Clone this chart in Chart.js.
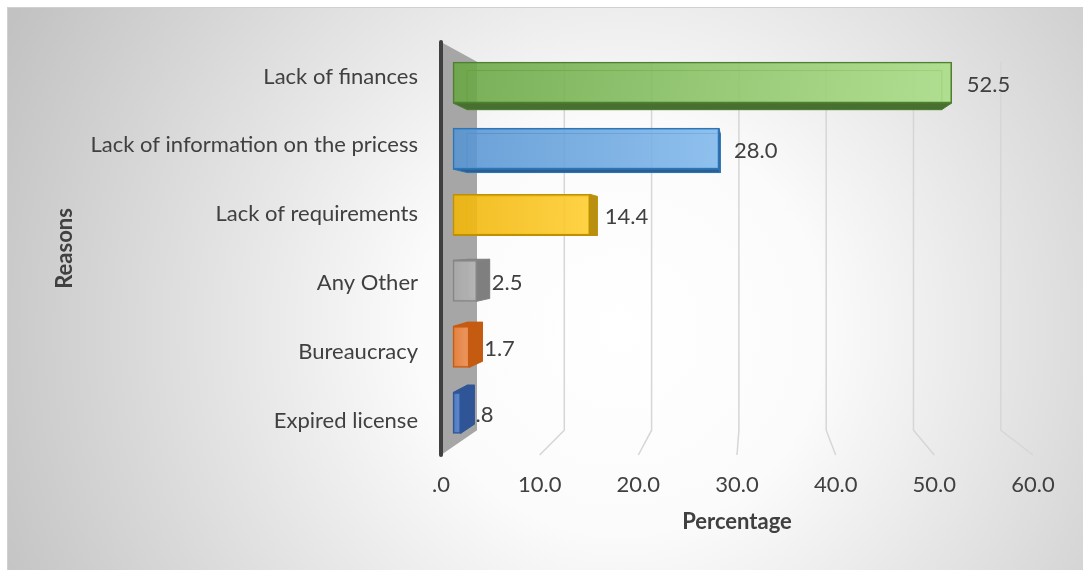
<!DOCTYPE html>
<html>
<head>
<meta charset="utf-8">
<script src="https://cdn.jsdelivr.net/npm/chart.js@4.4.0/dist/chart.umd.min.js"></script>
<style>
html,body{margin:0;padding:0;background:#fff;}
canvas{display:block;}
</style>
</head>
<body>
<canvas id="c" width="1083" height="570"></canvas>
<script>
// ---- data ----
const categories = ["Lack of finances", "Lack of information on the pricess", "Lack of requirements", "Any Other", "Bureaucracy", "Expired license"];
const values = [52.5, 28.0, 14.4, 2.5, 1.7, 0.8];
const tickValues = [0, 10, 20, 30, 40, 50, 60];
const tickLabels = [".0", "10.0", "20.0", "30.0", "40.0", "50.0", "60.0"];
const xTitle = "Percentage";
const yTitle = "Reasons";

// ---- styles ----
const FONT = "Lato, 'Open Sans', sans-serif";
const TEXT = "#404040";
const barStyles = [
  {front: ["rgba(104,166,66,0.88)", "rgba(170,222,134,0.88)"], side: "#466f30", edge: "#4f7f30"},
  {front: ["rgba(86,148,210,0.88)", "rgba(128,184,236,0.88)"], side: "#2b5f92", edge: "#2e75b6"},
  {front: ["rgba(240,182,10,0.9)", "rgba(255,206,50,0.9)"], side: "#b98f12", edge: "#bf9000"},
  {front: ["rgba(168,168,168,0.88)", "rgba(184,184,184,0.88)"], side: "#7f7f7f", edge: "#858585"},
  {front: ["rgba(236,124,48,0.88)", "rgba(244,150,90,0.88)"], side: "#c55a11", edge: "#c55a11"},
  {front: ["rgba(68,114,196,0.88)", "rgba(92,136,210,0.88)"], side: "#2f5597", edge: "#2f5597"}
];
const fmt = v => v.toFixed(1).replace(/^0\./, ".");

function poly(ctx, pts) {
  ctx.beginPath();
  ctx.moveTo(pts[0][0], pts[0][1]);
  for (let k = 1; k < pts.length; k++) ctx.lineTo(pts[k][0], pts[k][1]);
  ctx.closePath();
}

const bgPlugin = {
  id: "bg",
  beforeDraw(chart) {
    const {ctx, width, height} = chart;
    ctx.save();
    ctx.fillStyle = "#fff";
    ctx.fillRect(0, 0, width, height);
    const g = ctx.createRadialGradient(620, 330, 0, 620, 330, 680);
    g.addColorStop(0, "#ffffff");
    g.addColorStop(0.3, "#fbfbfb");
    g.addColorStop(1, "#c2c2c2");
    ctx.fillStyle = g;
    ctx.fillRect(7.5, 7.5, width, height);
    ctx.strokeStyle = "#d0d0d0";
    ctx.lineWidth = 1;
    ctx.strokeRect(7.5, 7.5, width + 10, height + 10);
    ctx.restore();
  }
};

const depthPlugin = {
  id: "depth",
  beforeDatasetsDraw(chart) {
    const {ctx, chartArea: a, scales} = chart;
    const xt = scales.xt, xb = scales.xb;
    const h = a.bottom - a.top;
    const backTop = a.top + h * 0.048;
    const backBot = a.bottom - h * 0.06;
    ctx.save();
    // back-wall gridlines bending onto the floor
    ctx.strokeStyle = "#d6d6d6";
    ctx.lineWidth = 1.5;
    tickValues.forEach(v => {
      if (v === 0) return;
      const bx = xb.getPixelForValue(v), fx = xt.getPixelForValue(v);
      ctx.beginPath();
      ctx.moveTo(bx, backTop);
      ctx.lineTo(bx, backBot);
      ctx.lineTo(fx, a.bottom);
      ctx.stroke();
    });
    // side wall
    const fx0 = xt.getPixelForValue(0), bx0 = xb.getPixelForValue(0);
    ctx.fillStyle = "#a6a6a6";
    poly(ctx, [[fx0, a.top], [bx0, backTop], [bx0, backBot], [fx0, a.bottom]]);
    ctx.fill();
    ctx.strokeStyle = "#404040";
    ctx.lineWidth = 4;
    ctx.lineCap = "round";
    ctx.beginPath();
    ctx.moveTo(fx0, a.top);
    ctx.lineTo(fx0, a.bottom);
    ctx.stroke();
    // bar depth faces
    const cx = xt.getPixelForValue(30.8), cy = a.top + h * 0.48, f = 0.048;
    const B = (px, py) => [px + (cx - px) * f, py + (cy - py) * f];
    ctx.lineWidth = 1;
    ctx.lineCap = "butt";
    chart.getDatasetMeta(0).data.forEach((el, i) => {
      const p = el.getProps(["x", "y", "base", "height"], true);
      const x0 = Math.min(p.base, p.x), x1 = Math.max(p.base, p.x);
      const y0 = p.y - p.height / 2, y1 = p.y + p.height / 2;
      const s = barStyles[i];
      const b00 = B(x0, y0), b10 = B(x1, y0), b11 = B(x1, y1), b01 = B(x0, y1);
      ctx.strokeStyle = s.edge;
      poly(ctx, [b00, b10, b11, b01]);
      ctx.stroke();
      ctx.fillStyle = s.side;
      if (x1 < cx) { poly(ctx, [[x1, y0], b10, b11, [x1, y1]]); ctx.fill(); ctx.stroke(); }
      if (y1 < cy) { poly(ctx, [[x0, y1], [x1, y1], b11, b01]); ctx.fill(); ctx.stroke(); }
      if (y0 > cy) { poly(ctx, [[x0, y0], [x1, y0], b10, b00]); ctx.fill(); ctx.stroke(); }
    });
    ctx.restore();
  },
  afterDatasetsDraw(chart) {
    const {ctx} = chart;
    ctx.save();
    ctx.font = "22px " + FONT;
    ctx.fillStyle = TEXT;
    ctx.textAlign = "left";
    ctx.textBaseline = "middle";
    chart.getDatasetMeta(0).data.forEach((el, i) => {
      const p = el.getProps(["x", "y"], true);
      ctx.fillText(fmt(values[i]), p.x + 15, p.y + 2);
    });
    ctx.restore();
  }
};

new Chart(document.getElementById("c"), {
  type: "bar",
  data: {
    labels: categories,
    datasets: [{
      data: values.map((v, i) => ({x: v, y: i})),
      xAxisID: "x",
      yAxisID: "yb",
      barThickness: 41,
      borderWidth: 1.5,
      borderSkipped: false,
      borderColor: c => barStyles[c.dataIndex] ? barStyles[c.dataIndex].edge : "#000",
      backgroundColor: c => {
        const s = barStyles[c.dataIndex];
        if (!s) return "#999";
        const chart = c.chart, xs = chart.scales && chart.scales.x;
        if (!chart.chartArea || !xs) return s.front[0];
        const g = chart.ctx.createLinearGradient(xs.getPixelForValue(0), 0, xs.getPixelForValue(values[c.dataIndex]), 0);
        g.addColorStop(0, s.front[0]);
        g.addColorStop(1, s.front[1]);
        return g;
      }
    }]
  },
  options: {
    indexAxis: "y",
    responsive: false,
    animation: false,
    devicePixelRatio: 1,
    layout: {padding: {top: 42, right: 50, left: 0, bottom: 0}},
    plugins: {legend: {display: false}, tooltip: {enabled: false}},
    scales: {
      x: {type: "linear", display: false, min: -1.263, max: 61.05},
      xb: {type: "linear", axis: "x", display: false, min: -4.124, max: 63.69},
      xt: {
        type: "linear", axis: "x", position: "bottom", min: 0, max: 60,
        ticks: {stepSize: 10, padding: 17, color: TEXT, font: {family: FONT, size: 22},
          callback: v => { const k = tickValues.indexOf(v); return k >= 0 ? tickLabels[k] : ""; }},
        grid: {display: false, drawTicks: false},
        border: {display: false},
        title: {display: true, text: xTitle, color: TEXT, font: {family: FONT, size: 22, weight: "bold"}, padding: {top: 0, bottom: 35}},
        afterFit: s => { s.height = 115; }
      },
      yb: {type: "linear", axis: "y", display: false, reverse: true, offset: false, grid: {offset: false}, min: -0.613, max: 5.635},
      y: {
        type: "category", position: "left", offset: true,
        ticks: {padding: 23, color: TEXT, font: {family: FONT, size: 22}},
        grid: {display: false, drawTicks: false},
        border: {display: false},
        title: {display: true, text: yTitle, color: TEXT, font: {family: FONT, size: 22, weight: "bold"}, padding: {top: 52, bottom: 0}},
        afterFit: s => { s.width = 441; }
      }
    }
  },
  plugins: [bgPlugin, depthPlugin]
});
</script>
</body>
</html>
